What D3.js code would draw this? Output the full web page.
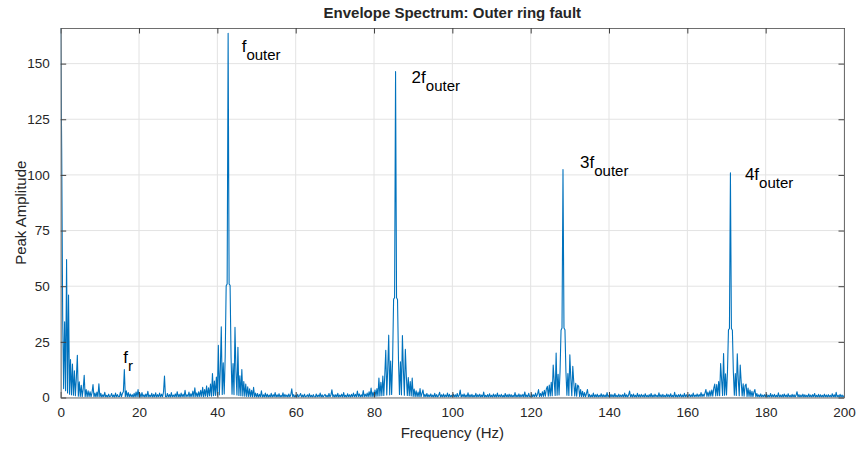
<!DOCTYPE html>
<html>
<head>
<meta charset="utf-8">
<script src="https://cdn.jsdelivr.net/npm/d3@7/dist/d3.min.js"></script>
<style>
  body { margin: 0; background: #fff; }
  text { font-family: "Liberation Sans", Arial, Helvetica, sans-serif; fill: #262626; }
</style>
</head>
<body>
<svg id="chart" width="860" height="449"></svg>
<script>
// envelope spectrum, one value every 0.25 Hz from 0 to 200 Hz
const freqStep = 0.25
const envAmp = [
  166, 112, 37, 4, 34, 3, 62, 2, 46, 1.5, 17, 1.2, 15, 1, 12, 0.8, 9, 19, 0.6, 7,     // 0
  0.5, 5.5, 0.4, 4, 10, 0.4, 3.6, 0.3, 3, 0.4, 2.6, 0.3, 2.2, 5.8, 0.3, 2, 0.2, 2.4, 0.3, 6.2, // 5
  0.2, 1.9, 0.1, 1.2, 0.3, 2.3, 0.2, 1.0, 0.1, 1.5, 0.3, 0.6, 1.8, 0.2, 1.1, 0.1, 2.0, 0.2, 1.3, 0.3, // 10
  0.4, 2.4, 0.3, 1.8, 2.6, 12.6, 0.4, 3.0, 0.3, 2.2, 0.2, 1.6, 0.3, 1.3, 0.1, 1.9, 0.2, 2.5, 0.3, 3.6, // 15
  0.2, 1.7, 0.1, 2.2, 0.3, 1.2, 0.1, 1.6, 0.2, 2.8, 0.1, 1.1, 0.3, 1.9, 0.1, 1.4, 0.2, 2.1, 0.1, 1.3, // 20
  0.3, 2.0, 0.2, 1.5, 0.3, 2.4, 9.6, 0.4, 0.2, 1.8, 0.2, 1.3, 0.1, 2.2, 0.2, 1.1, 0.3, 1.6, 0.1, 2.6, // 25
  0.2, 1.4, 0.1, 2.0, 0.3, 1.5, 0.2, 3.2, 0.3, 1.2, 0.4, 2.4, 0.2, 1.7, 0.4, 2.9, 0.3, 4.4, 0.4, 2.1, // 30
  0.3, 2.6, 0.4, 3.2, 0.5, 4.6, 0.3, 3.6, 0.6, 5.2, 0.4, 4.4, 0.7, 6.0, 0.6, 10.8, 0.8, 7.4, 0.9, 9.2, // 35
  1.0, 23.4, 1.2, 12.4, 31.8, 1.4, 15.6, 1.6, 18.4, 50.2, 51.0, 163.6, 51.0, 50.4, 17.8, 1.5, 15.2, 1.3, 31.5, 11.6, // 40
  1.1, 22.6, 0.9, 9.8, 0.8, 12.6, 0.7, 7.2, 0.6, 6.0, 0.5, 4.8, 0.4, 3.9, 0.4, 3.2, 0.3, 4.6, 0.3, 2.0, // 45
  0.2, 1.8, 0.1, 1.4, 0.3, 3.0, 0.1, 1.2, 0.2, 2.0, 0.1, 1.5, 0.1, 1.1, 0.2, 1.9, 0.1, 1.3, 0.3, 2.2, // 50
  0.1, 1.2, 0.2, 1.7, 0.1, 1.0, 0.2, 2.1, 0.1, 1.4, 0.3, 1.1, 0.1, 1.6, 0.2, 1.2, 3.9, 0.2, 1.3, 0.1, // 55
  1.0, 0.1, 1.4, 0.2, 0.9, 1.8, 0.1, 1.1, 0.1, 1.5, 0.2, 0.6, 1.2, 0.1, 1.7, 0.2, 1.0, 0.1, 1.3, 0.2, // 60
  0.1, 1.6, 0.2, 1.1, 0.3, 2.0, 0.1, 1.2, 0.1, 0.9, 1.4, 0.2, 1.0, 0.1, 1.8, 0.2, 1.1, 3.5, 0.2, 1.2, // 65
  0.1, 1.3, 0.2, 1.9, 0.1, 1.1, 0.3, 1.5, 0.1, 2.2, 0.2, 1.0, 0.1, 1.7, 0.3, 1.2, 0.1, 1.4, 0.3, 2.0, // 70
  0.3, 1.4, 0.2, 2.9, 0.4, 1.6, 0.2, 1.2, 0.3, 3.1, 0.3, 1.5, 0.4, 2.0, 0.3, 2.6, 0.4, 4.2, 0.3, 2.4, // 75
  0.4, 3.4, 0.5, 4.0, 0.6, 8.7, 0.7, 6.8, 0.8, 9.6, 0.9, 10.2, 21.2, 1.1, 12.8, 28.0, 1.2, 16.4, 1.4, 17.0, // 80
  44.2, 44.8, 146.4, 44.8, 44.0, 16.6, 1.4, 16.0, 1.2, 27.8, 12.2, 1.0, 21.6, 9.8, 0.9, 9.0, 0.8, 7.2, 0.7, 8.7, // 85
  0.5, 3.8, 0.4, 3.0, 0.4, 2.4, 0.3, 4.0, 0.3, 1.9, 3.4, 0.2, 1.4, 0.3, 1.8, 0.2, 1.2, 0.3, 1.6, 0.2, // 90
  1.1, 0.1, 1.9, 0.2, 1.3, 0.1, 1.0, 2.3, 0.1, 1.2, 0.2, 1.6, 0.1, 1.1, 0.3, 2.0, 0.1, 1.4, 0.2, 1.0, // 95
  0.1, 1.5, 0.2, 1.2, 0.1, 1.8, 0.2, 1.0, 3.3, 0.1, 1.3, 0.3, 1.6, 0.1, 1.1, 0.2, 2.1, 0.1, 1.2, 0.2, // 100
  1.4, 0.1, 1.0, 0.2, 1.9, 0.1, 1.2, 0.3, 1.5, 0.1, 1.1, 0.2, 2.4, 0.1, 1.0, 0.2, 1.3, 0.1, 1.7, 0.2, // 105
  1.0, 0.1, 1.6, 0.2, 1.2, 0.1, 2.0, 0.2, 1.1, 0.3, 1.4, 0.1, 1.0, 0.1, 1.8, 0.2, 1.2, 0.1, 1.5, 0.2, // 110
  1.3, 0.1, 1.0, 0.2, 2.2, 0.1, 1.1, 0.2, 1.6, 0.1, 1.2, 0.3, 1.4, 0.1, 2.5, 0.2, 1.1, 0.2, 1.9, 0.3, // 115
  0.2, 1.6, 0.3, 1.2, 0.3, 2.0, 0.4, 1.4, 3.6, 0.4, 1.8, 0.5, 2.6, 0.5, 3.2, 0.6, 3.8, 5.0, 0.6, 5.6, // 120
  0.7, 6.8, 0.8, 14.6, 7.6, 0.9, 20.0, 1.0, 10.4, 1.1, 11.8, 30.2, 31.2, 102.4, 31.2, 30.4, 11.6, 1.0, 10.8, 0.9, // 125
  19.2, 8.4, 0.8, 14.0, 7.0, 0.7, 6.4, 0.6, 5.6, 5.0, 0.5, 3.6, 0.4, 2.8, 0.4, 2.2, 0.3, 1.8, 3.6, 0.2, // 130
  1.4, 0.1, 1.1, 0.2, 2.0, 0.1, 1.2, 0.2, 1.5, 0.1, 1.0, 0.3, 1.7, 0.1, 1.3, 0.2, 1.1, 0.1, 2.2, 0.2, // 135
  1.0, 0.1, 1.4, 0.2, 1.2, 0.1, 1.8, 0.2, 1.0, 0.1, 1.5, 0.2, 1.1, 0.3, 1.3, 0.1, 2.0, 0.2, 1.2, 0.1, // 140
  1.1, 2.9, 0.2, 1.3, 0.1, 1.6, 0.2, 1.0, 0.1, 1.9, 0.2, 1.2, 0.1, 1.4, 0.3, 1.1, 0.1, 1.7, 0.2, 1.0, // 145
  0.1, 1.3, 0.2, 1.8, 0.1, 1.1, 0.2, 1.5, 0.3, 1.0, 0.1, 2.1, 0.2, 1.2, 0.1, 1.4, 0.2, 1.0, 0.1, 1.6, // 150
  0.3, 1.2, 0.1, 1.7, 0.2, 1.0, 0.1, 2.3, 0.2, 1.1, 0.1, 1.3, 0.3, 1.5, 0.1, 1.1, 0.2, 1.9, 0.2, 1.2, // 155
  0.3, 0.6, 1.4, 0.2, 1.2, 0.3, 2.0, 0.3, 1.1, 0.4, 1.6, 0.3, 1.3, 0.4, 2.2, 0.4, 1.5, 0.5, 2.0, 3.6, // 160
  0.5, 2.4, 0.5, 3.0, 0.6, 3.4, 0.6, 4.2, 6.0, 0.7, 5.8, 0.8, 7.2, 0.8, 15.3, 8.0, 0.9, 19.8, 1.0, 10.6, // 165
  1.1, 11.8, 30.4, 31.0, 100.9, 31.0, 30.2, 11.4, 1.0, 10.8, 0.9, 19.6, 8.2, 0.8, 14.6, 7.0, 0.7, 6.2, 0.6, 5.4, // 170
  6.0, 0.5, 4.2, 0.5, 3.4, 0.4, 2.8, 0.4, 2.4, 3.6, 0.3, 1.8, 0.3, 1.2, 0.2, 1.6, 0.2, 1.1, 0.3, 1.3, // 175
  0.2, 1.5, 0.1, 1.0, 0.2, 1.8, 0.1, 1.2, 0.3, 1.4, 0.1, 1.0, 0.2, 2.1, 0.1, 1.1, 0.2, 1.3, 0.1, 1.6, // 180
  0.3, 1.1, 0.1, 1.7, 0.2, 1.0, 0.1, 1.4, 0.2, 1.2, 0.1, 1.0, 2.6, 0.2, 1.3, 0.1, 1.1, 0.2, 1.5, 0.1, // 185
  1.2, 0.2, 1.0, 0.1, 1.6, 0.2, 1.1, 0.1, 1.3, 0.3, 1.8, 0.1, 1.0, 0.2, 1.4, 0.1, 1.2, 0.2, 1.0, 0.1, // 190
  1.5, 0.2, 1.1, 0.1, 1.3, 0.3, 1.0, 0.1, 1.7, 0.2, 1.2, 0.1, 2.3, 0.2, 1.0, 0.1, 1.4, 0.2, 1.1, 0.2, // 195
  0.9
]

const xTicks = [0, 20, 40, 60, 80, 100, 120, 140, 160, 180, 200]
const yTicks = [0, 25, 50, 75, 100, 125, 150]
const xDomain = [0, 200]
const yDomain = [0, 166]

// fault frequency annotations: text, subscript, anchor in Hz / amplitude
const peakLabels = [
  { main: 'f',  sub: 'r',     f: 16.0,  a: 15.4 },
  { main: 'f',  sub: 'outer', f: 46.2,  a: 155.0 },
  { main: '2f', sub: 'outer', f: 89.6,  a: 141.1 },
  { main: '3f', sub: 'outer', f: 132.6, a: 103.2 },
  { main: '4f', sub: 'outer', f: 174.7, a: 97.5 }
]

const chartTitle = 'Envelope Spectrum: Outer ring fault'
const xLabel = 'Frequency (Hz)'
const yLabel = 'Peak Amplitude'

const width = 860, height = 449
const marginTop = 28, marginRight = 16, marginBottom = 51.5, marginLeft = 60.7
const tickLen = 5.5

const svg = d3.select('#chart')

const x = d3.scaleLinear().domain(xDomain).range([marginLeft, width - marginRight])
const y = d3.scaleLinear().domain(yDomain).range([height - marginBottom, marginTop])

const spectrum = envAmp.map((a, i) => ({ f: i * freqStep, a }))

// grid
svg.append('g')
  .selectAll('line')
  .data(xTicks)
  .join('line')
  .attr('x1', d => x(d)).attr('x2', d => x(d))
  .attr('y1', y(yDomain[1])).attr('y2', y(0))
  .attr('stroke', '#e3e3e3').attr('stroke-width', 1)

svg.append('g')
  .selectAll('line')
  .data(yTicks)
  .join('line')
  .attr('x1', x(0)).attr('x2', x(xDomain[1]))
  .attr('y1', d => y(d)).attr('y2', d => y(d))
  .attr('stroke', '#e3e3e3').attr('stroke-width', 1)

// spectrum line
svg.append('clipPath').attr('id', 'plotClip')
  .append('rect')
  .attr('x', x(0)).attr('y', y(yDomain[1]))
  .attr('width', x(xDomain[1]) - x(0)).attr('height', y(0) - y(yDomain[1]))

svg.append('path')
  .datum(spectrum)
  .attr('clip-path', 'url(#plotClip)')
  .attr('fill', 'none')
  .attr('stroke', '#0072BD')
  .attr('stroke-width', 1.1)
  .attr('stroke-linejoin', 'round')
  .attr('d', d3.line().x(d => x(d.f)).y(d => y(d.a)))

// axes, MATLAB style: box with inward ticks on all sides
const xAxisBottom = d3.axisBottom(x).tickValues(xTicks).tickSizeInner(-tickLen).tickSizeOuter(0).tickPadding(10)
const xAxisTop = d3.axisTop(x).tickValues(xTicks).tickSizeInner(-tickLen).tickSizeOuter(0).tickFormat('')
const yAxisLeft = d3.axisLeft(y).tickValues(yTicks).tickSizeInner(-tickLen).tickSizeOuter(0).tickPadding(11)
const yAxisRight = d3.axisRight(y).tickValues(yTicks).tickSizeInner(-tickLen).tickSizeOuter(0).tickFormat('')

function styleAxis(g) {
  g.select('.domain').attr('stroke', '#6e6e6e')
  g.selectAll('.tick line').attr('stroke', '#404040')
  g.selectAll('.tick text').attr('fill', '#262626').style('font-size', '13.5px')
    .style('font-family', '"Liberation Sans", Arial, sans-serif')
}

svg.append('g').attr('transform', `translate(0,${y(0)})`).call(xAxisBottom).call(styleAxis)
svg.append('g').attr('transform', `translate(0,${y(yDomain[1])})`).call(xAxisTop).call(styleAxis)
svg.append('g').attr('transform', `translate(${x(0)},0)`).call(yAxisLeft).call(styleAxis)
svg.append('g').attr('transform', `translate(${x(xDomain[1])},0)`).call(yAxisRight).call(styleAxis)

// annotations
peakLabels.forEach(l => {
  const t = svg.append('text')
    .attr('x', x(l.f)).attr('y', y(l.a))
    .attr('fill', '#000')
  t.append('tspan').text(l.main).style('font-size', '17px').attr('fill', '#000')
  t.append('tspan').text(l.sub).style('font-size', '15px').attr('dy', 8).attr('fill', '#000')
})

// titles
svg.append('text')
  .attr('x', (x(0) + x(xDomain[1])) / 2).attr('y', 18)
  .attr('text-anchor', 'middle')
  .style('font-size', '15px').style('font-weight', 'bold')
  .attr('fill', '#000')
  .text(chartTitle)

svg.append('text')
  .attr('x', (x(0) + x(xDomain[1])) / 2).attr('y', 437.5)
  .attr('text-anchor', 'middle')
  .style('font-size', '15px')
  .text(xLabel)

svg.append('text')
  .attr('transform', `translate(25.5,${(y(0) + y(yDomain[1])) / 2}) rotate(-90)`)
  .attr('text-anchor', 'middle')
  .style('font-size', '15px')
  .text(yLabel)
</script>
</body>
</html>
